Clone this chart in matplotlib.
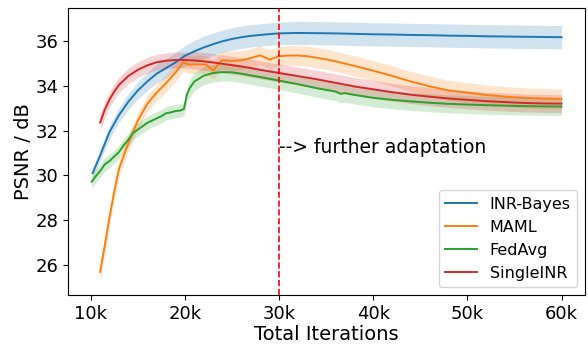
import numpy as np
import matplotlib
matplotlib.use("Agg")
import matplotlib.pyplot as plt

# mean PSNR and spread per method (iterations in thousands)
bayes_it = [10.2, 11, 12, 13, 14, 15, 16, 17, 18, 19, 20, 21, 22, 23, 24, 25, 26, 27, 28, 29, 30,
            32, 34, 36, 38, 40, 42, 44, 46, 48, 50, 52, 54, 56, 58, 60]
bayes_psnr = [30.1, 30.9, 31.95, 32.7, 33.3, 33.8, 34.2, 34.55, 34.8, 35.05, 35.35, 35.55, 35.72,
              35.87, 36.0, 36.1, 36.18, 36.24, 36.28, 36.32, 36.35, 36.37, 36.36, 36.35, 36.33,
              36.31, 36.3, 36.28, 36.27, 36.25, 36.24, 36.22, 36.21, 36.2, 36.19, 36.18]
bayes_std = [0.2, 0.25, 0.3, 0.33, 0.36, 0.38, 0.4, 0.42, 0.44, 0.45, 0.46, 0.48, 0.5, 0.5, 0.5,
             0.5, 0.5, 0.5, 0.5, 0.5, 0.5, 0.52, 0.52, 0.52, 0.52, 0.52, 0.52, 0.52, 0.52, 0.52,
             0.52, 0.52, 0.52, 0.52, 0.52, 0.52]

maml_it = [11.0, 11.5, 12, 12.5, 13, 14, 15, 16, 17, 18, 19, 19.8, 20.5, 21.2, 22.2, 23.0, 23.9,
           25, 26, 27, 28, 29, 30, 31, 32, 33, 34, 35, 36, 38, 40, 42, 44, 46, 48, 50, 52, 54,
           56, 58, 60]
maml_psnr = [25.69, 26.9, 28.15, 29.3, 30.3, 31.45, 32.45, 33.2, 33.7, 34.13, 34.6, 35.05, 34.95,
             34.97, 34.96, 34.7, 35.15, 35.12, 35.15, 35.25, 35.37, 35.18, 35.33, 35.36, 35.36,
             35.33, 35.26, 35.19, 35.1, 34.9, 34.68, 34.45, 34.2, 33.98, 33.8, 33.7, 33.6, 33.52,
             33.47, 33.44, 33.42]
maml_std = [0.45, 0.42, 0.4, 0.38, 0.36, 0.36, 0.36, 0.38, 0.38, 0.4, 0.4, 0.4, 0.4, 0.4, 0.4,
            0.4, 0.4, 0.42, 0.42, 0.42, 0.42, 0.42, 0.42, 0.44, 0.44, 0.45, 0.45, 0.45, 0.45,
            0.45, 0.45, 0.45, 0.45, 0.45, 0.45, 0.45, 0.45, 0.45, 0.45, 0.45, 0.45]

fedavg_it = [10.1, 10.5, 11, 11.5, 12, 12.5, 13, 13.5, 14, 14.5, 15, 15.5, 16, 16.5, 17, 17.5, 18,
             18.5, 19, 19.5, 19.9, 20.2, 20.5, 21, 22, 23, 24, 25, 26, 27, 28, 29, 30, 32, 34, 36,
             36.5, 37, 38, 40, 42, 44, 46, 48, 50, 52, 54, 56, 58, 60]
fedavg_psnr = [29.72, 29.95, 30.2, 30.5, 30.65, 30.85, 31.05, 31.35, 31.6, 31.9, 32.05, 32.2,
               32.35, 32.45, 32.55, 32.65, 32.78, 32.82, 32.88, 32.9, 32.97, 33.6, 33.9, 34.2,
               34.46, 34.58, 34.62, 34.61, 34.55, 34.47, 34.4, 34.32, 34.24, 34.08, 33.9, 33.75,
               33.65, 33.68, 33.6, 33.47, 33.38, 33.31, 33.25, 33.2, 33.17, 33.14, 33.12, 33.1,
               33.09, 33.08]
fedavg_std = [0.3] * 22 + [0.4] * 28

single_it = [11.0, 11.5, 12, 12.5, 13, 14, 15, 16, 17, 18, 19, 20, 21, 22, 23, 24, 25, 26, 27, 28,
             29, 30, 32, 34, 36, 38, 40, 42, 44, 46, 48, 50, 52, 54, 56, 58, 60]
single_psnr = [32.37, 32.95, 33.4, 33.75, 34.05, 34.45, 34.72, 34.92, 35.06, 35.13, 35.16, 35.16,
               35.14, 35.1, 35.05, 34.99, 34.93, 34.87, 34.8, 34.72, 34.65, 34.58, 34.44, 34.3,
               34.14, 33.98, 33.85, 33.72, 33.61, 33.52, 33.44, 33.38, 33.32, 33.28, 33.24,
               33.22, 33.21]
single_std = [0.35] * 12 + [0.4] * 25

methods = ["INR-Bayes", "MAML", "FedAvg", "SingleINR"]
colors = ["tab:blue", "tab:orange", "tab:green", "tab:red"]
curves = [(bayes_it, bayes_psnr, bayes_std), (maml_it, maml_psnr, maml_std),
          (fedavg_it, fedavg_psnr, fedavg_std), (single_it, single_psnr, single_std)]

fig, ax = plt.subplots(figsize=(5.88, 3.45), dpi=100)
for name, c, (it, m, s) in zip(methods, colors, curves):
    it = np.array(it) * 1000
    m = np.array(m)
    s = np.array(s)
    ax.plot(it, m, color=c, label=name, lw=1.4)
    ax.fill_between(it, m - s, m + s, color=c, alpha=0.2, lw=0)

ax.axvline(30000, color="red", linestyle="--", lw=1.2)
ax.text(30000, 31.0, "--> further adaptation", fontsize=13.5)

ax.set_xticks([10000, 20000, 30000, 40000, 50000, 60000])
ax.set_xticklabels(["10k", "20k", "30k", "40k", "50k", "60k"])
ax.tick_params(labelsize=13)
ax.set_xlabel("Total Iterations", fontsize=14, labelpad=2)
ax.set_ylabel("PSNR / dB", fontsize=14, labelpad=2)
ax.legend(loc="lower right", fontsize=11.5)

plt.subplots_adjust(left=0.116, right=0.995, top=0.976, bottom=0.145)
plt.savefig("out.png", dpi=100)
